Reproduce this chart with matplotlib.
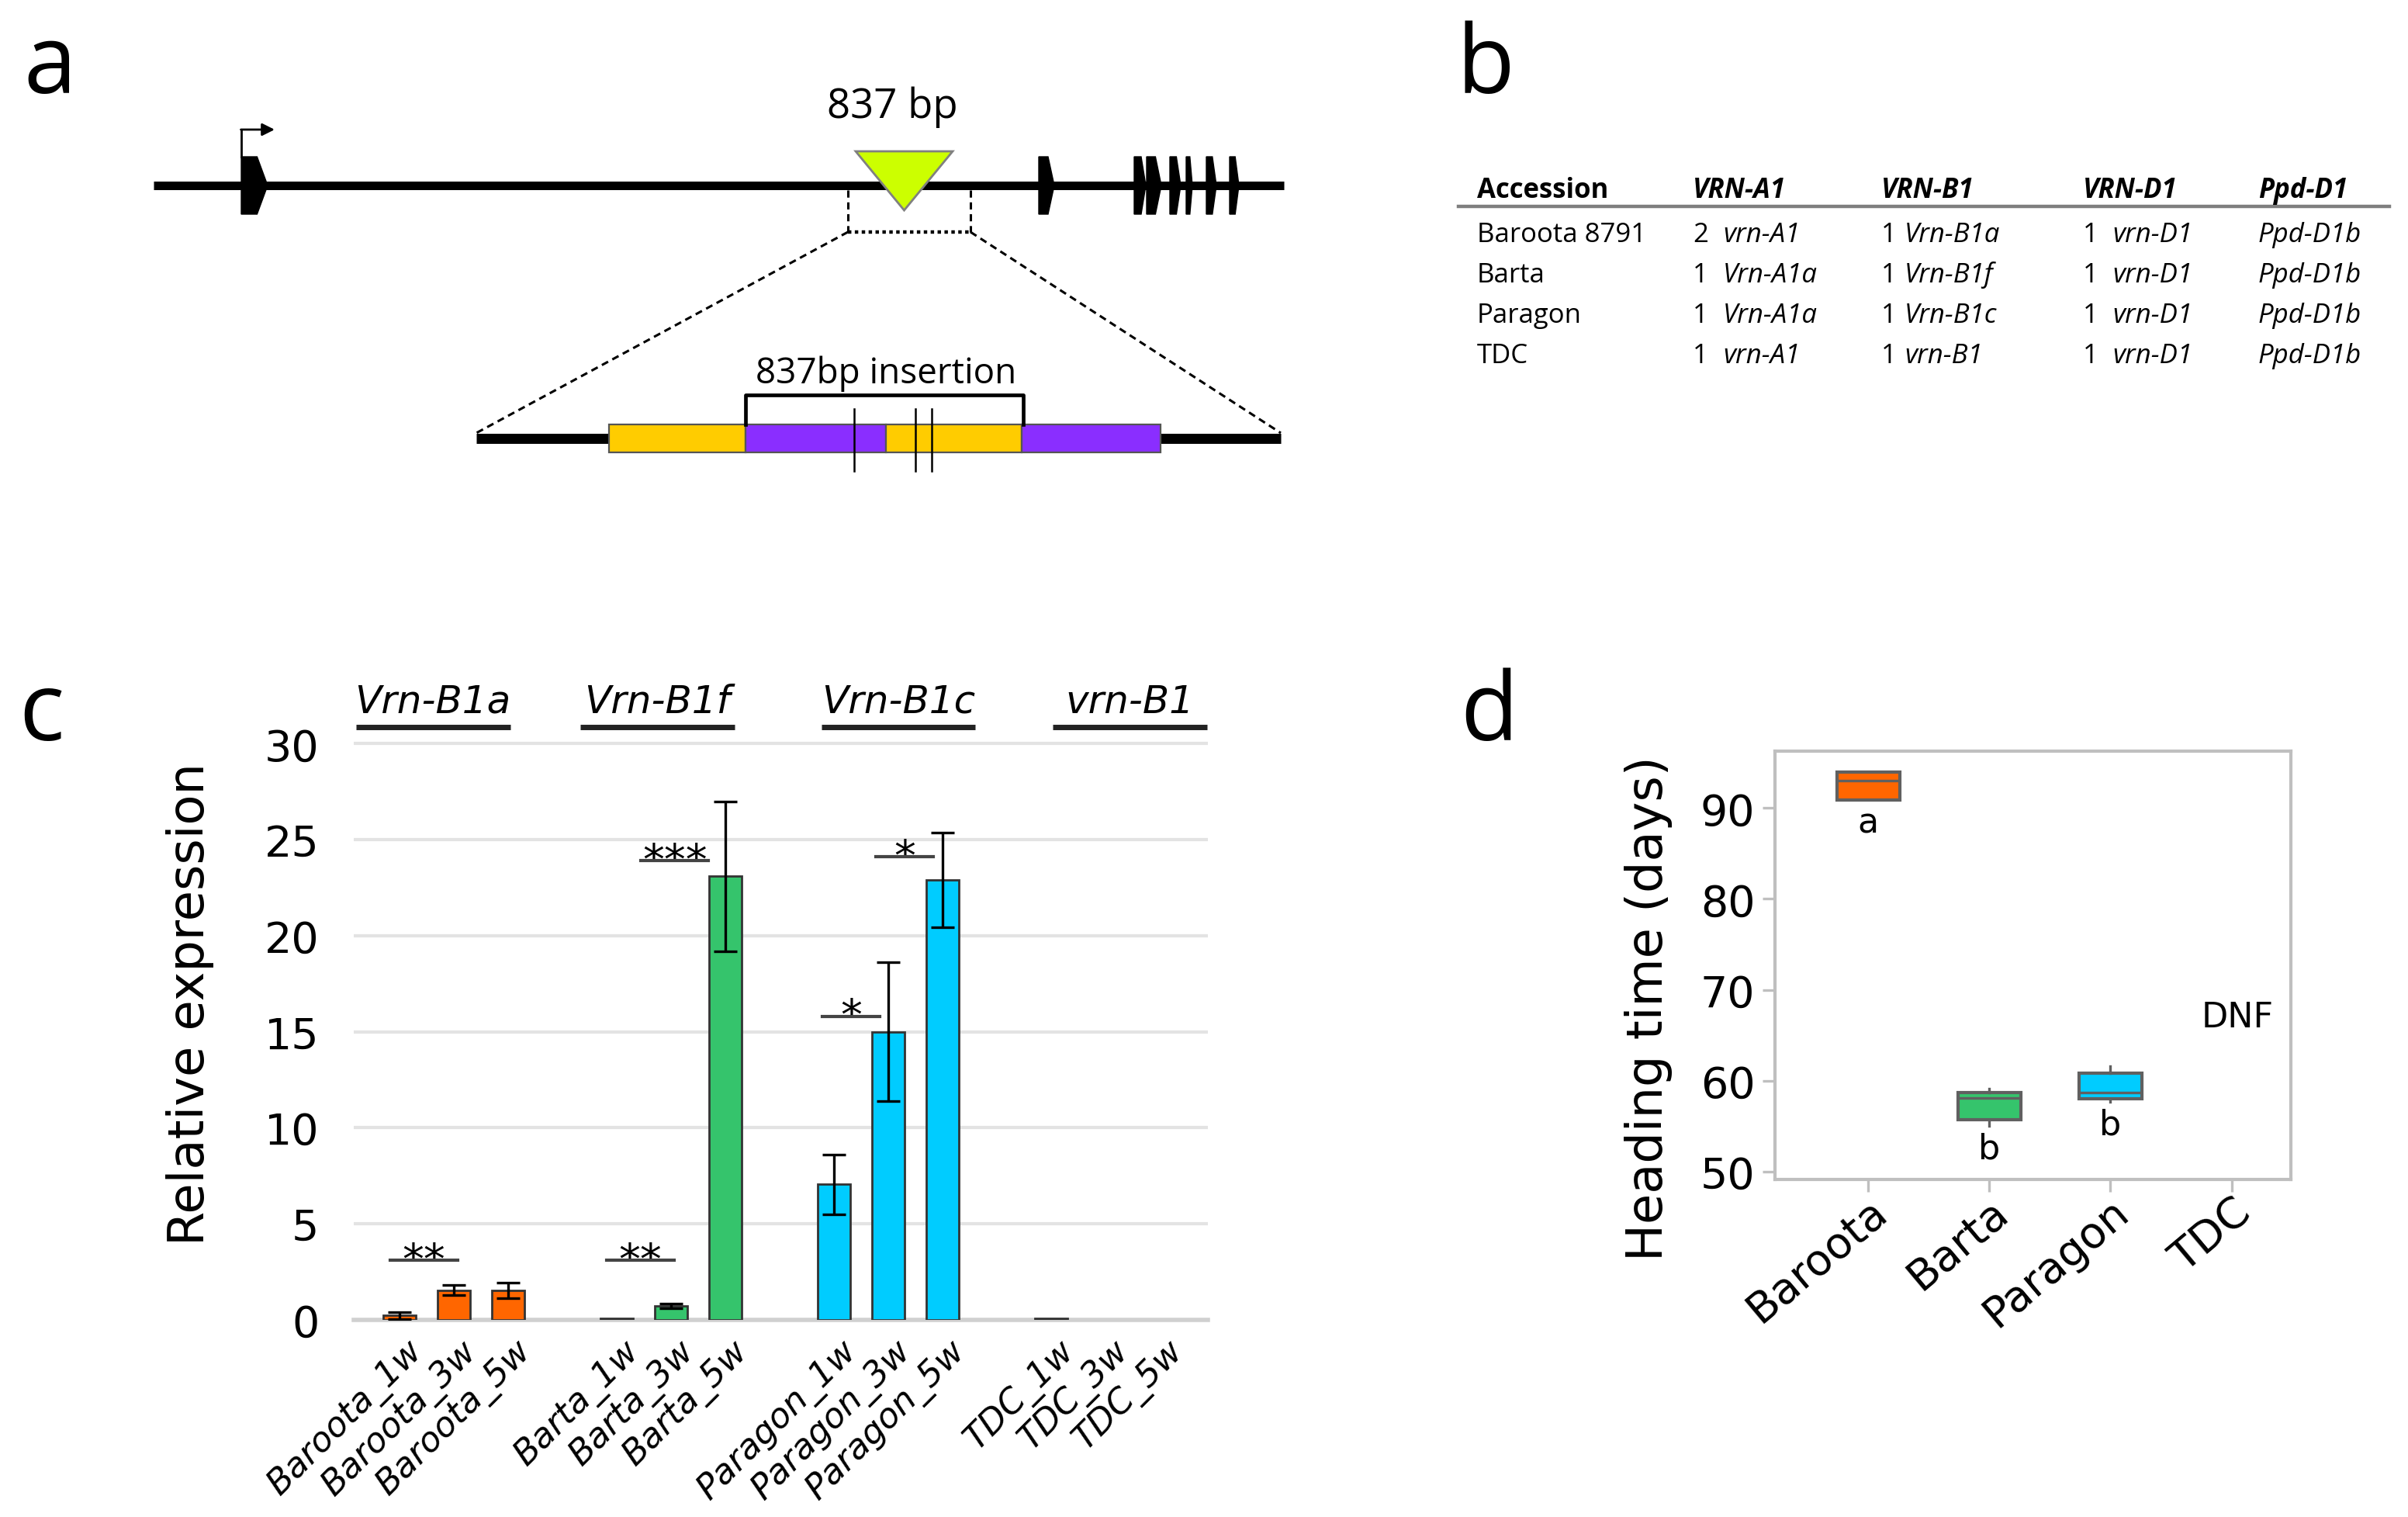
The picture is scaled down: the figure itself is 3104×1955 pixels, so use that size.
import matplotlib
matplotlib.use("Agg")
import matplotlib.pyplot as plt
import matplotlib.transforms as mtransforms
from matplotlib.patches import Polygon, Rectangle

W, H, DPI = 3104, 1956, 200

# ---- panel a: gene model, in canvas pixel units ----
gene_x = [198, 1655]
gene_y = 240
exon_left = [311, 1339, 1462, 1478, 1508, 1529, 1555, 1585]
exon_right = [345, 1359, 1477, 1497, 1522, 1537, 1568, 1597]
exon_top, exon_bottom = 203, 277
insert_x = [1103, 1228]
zoom_x = [1093, 1251]
detail_x = [614, 1651]
detail_y = 566
segment_edges = [785, 961, 1142, 1317, 1496]
segment_colors = ["#ffcc00", "#8a2eff", "#ffcc00", "#8a2eff"]
insertion_span = [961, 1319]
marker_x = [1101, 1180, 1201]

# ---- panel b: allele table ----
table_cols = ["Accession", "VRN-A1", "VRN-B1", "VRN-D1", "Ppd-D1"]
accessions = ["Baroota 8791", "Barta", "Paragon", "TDC"]
vrn_a1_copies = ["2", "1", "1", "1"]
vrn_a1_allele = ["vrn-A1", "Vrn-A1a", "Vrn-A1a", "vrn-A1"]
vrn_b1_copies = ["1", "1", "1", "1"]
vrn_b1_allele = ["Vrn-B1a", "Vrn-B1f", "Vrn-B1c", "vrn-B1"]
vrn_d1_copies = ["1", "1", "1", "1"]
vrn_d1_allele = ["vrn-D1", "vrn-D1", "vrn-D1", "vrn-D1"]
ppd_d1_allele = ["Ppd-D1b", "Ppd-D1b", "Ppd-D1b", "Ppd-D1b"]

# ---- panel c: relative expression ----
lines = ["Baroota", "Barta", "Paragon", "TDC"]
weeks = ["1w", "3w", "5w"]
expr = [0.22, 1.53, 1.53, 0.05, 0.72, 23.1, 7.05, 15.0, 22.9, 0.05, 0.0, 0.0]
expr_err = [0.18, 0.27, 0.40, 0.0, 0.12, 3.9, 1.55, 3.6, 2.45, 0.0, 0.0, 0.0]
group_alleles = ["Vrn-B1a", "Vrn-B1f", "Vrn-B1c", "vrn-B1"]
sig_y = [3.1, 3.1, 23.9, 15.8, 24.1]
sig_text = ["**", "**", "***", "*", "*"]

# ---- panel d: heading time ----
ht_q1 = [90.9, 55.7, 58.0]
ht_med = [93.05, 58.1, 58.7]
ht_q3 = [94.0, 58.7, 60.8]
ht_lo = [90.9, 55.0, 57.7]
ht_hi = [94.0, 59.1, 61.6]
ht_letters = ["a", "b", "b"]

line_colors = ["#ff6600", "#35c46c", "#00ccff", "#999999"]

plt.rcParams["font.family"] = ["DejaVu Sans"]


def pt(px):
    return px * 72 / DPI


fig = plt.figure(figsize=(W / DPI, H / DPI), dpi=DPI)

# canvas axes for panels a and b
cv = fig.add_axes([0, 0, 1, 1])
cv.set_xlim(0, W)
cv.set_ylim(H, 0)
cv.axis("off")

for lab, x, y in [("a", 30, 120), ("b", 1877, 120), ("c", 24, 954), ("d", 1882, 954)]:
    cv.text(x, y, lab, fontsize=44, family="Open Sans", ha="left", va="baseline")

# panel a
cv.plot(gene_x, [gene_y, gene_y], color="black", lw=pt(11), solid_capstyle="butt", zorder=2)
mid = (exon_top + exon_bottom) / 2
for x0, x1 in zip(exon_left, exon_right):
    xs = x0 + 0.6 * (x1 - x0)
    cv.add_patch(Polygon([(x0, exon_top), (xs, exon_top), (x1, mid), (xs, exon_bottom), (x0, exon_bottom)],
                         closed=True, facecolor="black", edgecolor="black", lw=0.5, zorder=3))
cv.plot([exon_left[0], exon_left[0]], [exon_top, 168], color="black", lw=1.0)
cv.annotate("", xy=(354, 168), xytext=(exon_left[0] - 0.5, 168),
            arrowprops=dict(arrowstyle="-|>", lw=1.0, color="black", mutation_scale=12,
                            shrinkA=0, shrinkB=0))
cv.add_patch(Polygon([(insert_x[0], 196), (insert_x[1], 196), (sum(insert_x) / 2, 272)],
                     closed=True, facecolor="#ccff00", edgecolor="#808080", lw=1.0, zorder=4))
cv.text(1150, 152, "837 bp", fontsize=19, family="Open Sans", ha="center", va="baseline")

dash = dict(color="black", lw=1.1, linestyle=(0, (3, 2)))
for x in zoom_x:
    cv.plot([x, x], [gene_y + 6, 300], **dash)
cv.plot(zoom_x, [300, 300], color="black", lw=1.6, linestyle=(0, (1, 1)))
cv.plot([zoom_x[0], detail_x[0]], [300, detail_y - 7], **dash)
cv.plot([zoom_x[1], detail_x[1]], [300, detail_y - 7], **dash)

cv.plot(detail_x, [detail_y, detail_y], color="black", lw=pt(13), solid_capstyle="butt", zorder=2)
for x0, x1, c in zip(segment_edges[:-1], segment_edges[1:], segment_colors):
    cv.add_patch(Rectangle((x0, 548), x1 - x0, 36, facecolor=c, edgecolor="#555555", lw=0.8, zorder=3))
cv.plot([insertion_span[0], insertion_span[0], insertion_span[1], insertion_span[1]],
        [548, 510, 510, 548], color="black", lw=1.7, zorder=4)
for x in marker_x:
    cv.plot([x, x], [528, 608], color="black", lw=0.9, zorder=5)
cv.text(1142, 494, "837bp insertion", fontsize=16.5, family="Open Sans", ha="center", va="baseline")

# panel b
col_x = [1904, 2182, 2425, 2685, 2911]
allele_dx = [39, 30, 38]
tfont = dict(family="Open Sans", fontsize=12.5, va="baseline")
for i, name in enumerate(table_cols):
    cv.text(col_x[i], 255, name, fontweight="bold", fontstyle="normal" if i == 0 else "italic", **tfont)
cv.plot([1880, 3080], [267, 267], color="#7f7f7f", lw=1.6)
for r in range(len(accessions)):
    y = 312 + 52 * r
    cv.text(col_x[0], y, accessions[r], **tfont)
    for j, (cp, al) in enumerate([(vrn_a1_copies, vrn_a1_allele), (vrn_b1_copies, vrn_b1_allele),
                                   (vrn_d1_copies, vrn_d1_allele)]):
        cv.text(col_x[j + 1], y, cp[r], **tfont)
        cv.text(col_x[j + 1] + allele_dx[j], y, al[r], fontstyle="italic", **tfont)
    cv.text(col_x[4], y, ppd_d1_allele[r], fontstyle="italic", **tfont)

# panel c
pos = [4 * g + k for g in range(len(lines)) for k in range(len(weeks))]
samples = [f"{ln}_{wk}" for ln in lines for wk in weeks]
bar_colors = [line_colors[g] for g in range(len(lines)) for _ in weeks]
bar_edges = ["#333333" if v > 0 else "none" for v in expr]

ax_c = fig.add_axes([456 / W, 1 - 1701.6 / H, (1557 - 456) / W, (1701.6 - 955.7) / H])
ax_c.bar(pos, expr, width=0.6, color=bar_colors, edgecolor=bar_edges, linewidth=1.0, zorder=3)
for i, e in enumerate(expr_err):
    if e > 0:
        ax_c.errorbar([pos[i]], [expr[i]], yerr=[e], fmt="none", ecolor="black",
                      elinewidth=1.2, capsize=5.5, capthick=1.2, zorder=4)
ax_c.set_xlim(-0.84, 14.89)
ax_c.set_ylim(0, 30.15)
ax_c.set_yticks(range(0, 31, 5))
ax_c.yaxis.grid(True, color="#e3e3e3", lw=1.5, zorder=0)
ax_c.set_axisbelow(True)
for s in ["left", "right", "top"]:
    ax_c.spines[s].set_visible(False)
ax_c.spines["bottom"].set_color("#d0d0d0")
ax_c.spines["bottom"].set_linewidth(2)
ax_c.tick_params(axis="y", length=0, labelsize=20, pad=16)
ax_c.tick_params(axis="x", length=0, pad=8)
ax_c.set_xticks(pos)
ax_c.set_xticklabels(samples, rotation=45, ha="right", va="top", rotation_mode="anchor",
                     fontstyle="italic", fontsize=16)
off = mtransforms.ScaledTranslation(pt(8) / 72, pt(4) / 72, fig.dpi_scale_trans)
for t in ax_c.get_xticklabels():
    t.set_transform(t.get_transform() + off)

group_label_x = [0.62, 4.75, 9.19, 13.45]
for gx, al in zip(group_label_x, group_alleles):
    ax_c.text(gx, 32.2, al, fontstyle="italic", fontsize=18, ha="center", va="center", clip_on=False)
    ax_c.plot([gx - 1.42, gx + 1.42], [30.87, 30.87], color="#222222", lw=2.5, clip_on=False,
              solid_capstyle="butt")

# significance bars, x extents in bar-slot units
sig_x0 = [-0.17, 3.82, 4.45, 7.79, 8.77]
sig_x1 = [1.08, 5.06, 5.69, 8.85, 9.83]
for x0, x1, y, s in zip(sig_x0, sig_x1, sig_y, sig_text):
    ax_c.plot([x0, x1], [y, y], color="#444444", lw=1.5, zorder=5)
    ax_c.annotate(s, xy=((x0 + x1) / 2, y), xytext=(0, -6), textcoords="offset points",
                  ha="center", va="baseline", fontsize=20)

fig.text(245 / W, 1 - 1294 / H, "Relative expression", rotation=90, fontsize=23,
         ha="center", va="center")

# panel d
ax_d = fig.add_axes([2288 / W, 1 - 1521.4 / H, (2953 - 2288) / W, (1521.4 - 968.7) / H])
stats = [dict(med=ht_med[i], q1=ht_q1[i], q3=ht_q3[i], whislo=ht_lo[i], whishi=ht_hi[i])
         for i in range(len(ht_med))]
bp = ax_d.bxp(stats, positions=range(len(stats)), widths=0.52, patch_artist=True,
              showfliers=False, showcaps=False,
              boxprops=dict(edgecolor="#606060", linewidth=1.5),
              medianprops=dict(color="#606060", linewidth=1.2),
              whiskerprops=dict(color="#606060", linewidth=1.2))
for patch, c in zip(bp["boxes"], line_colors):
    patch.set_facecolor(c)
for i, letter in enumerate(ht_letters):
    ax_d.text(i, ht_lo[i] - 2.5, letter, ha="center", va="center", fontsize=16)
ax_d.text(3.05, 67.0, "DNF", ha="center", va="center", fontsize=16)
ax_d.set_xlim(-0.77, 3.49)
ax_d.set_ylim(49.09, 96.29)
ax_d.set_yticks([50, 60, 70, 80, 90])
ax_d.set_xticks(range(len(lines)))
ax_d.set_xticklabels(lines, rotation=40, ha="right", va="top", rotation_mode="anchor", fontsize=21)
off_d = mtransforms.ScaledTranslation(pt(18) / 72, pt(14) / 72, fig.dpi_scale_trans)
for t in ax_d.get_xticklabels():
    t.set_transform(t.get_transform() + off_d)
for s in ax_d.spines.values():
    s.set_color("#bfbfbf")
    s.set_linewidth(1.5)
ax_d.tick_params(color="#bfbfbf", length=pt(16), width=1.2, labelsize=20)
ax_d.tick_params(axis="x", pad=-1)
fig.text(2125 / W, 1 - 1300 / H, "Heading time (days)", rotation=90, fontsize=23,
         ha="center", va="center")

fig.savefig("out.png", dpi=DPI)
